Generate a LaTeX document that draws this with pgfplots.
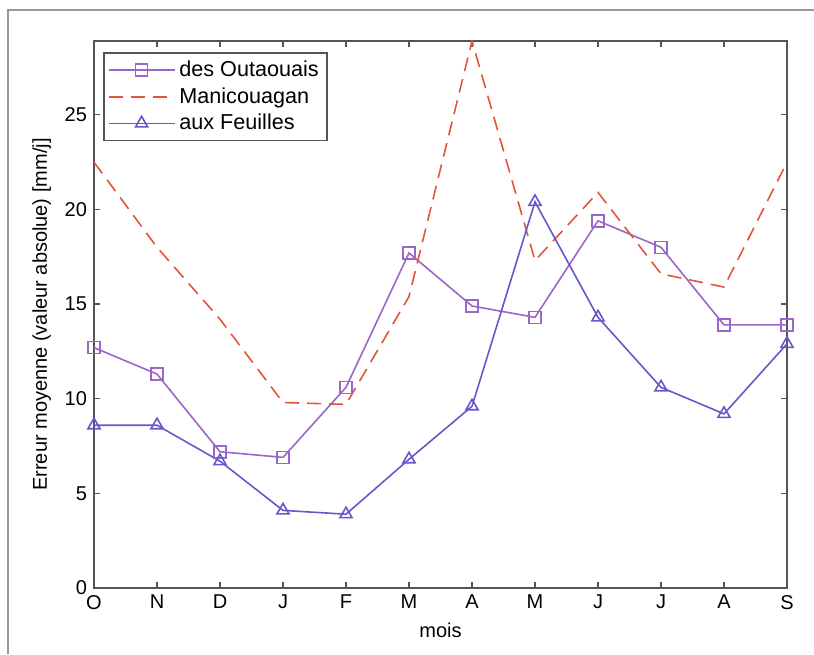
\documentclass[border=0pt]{standalone}
\usepackage{fontspec}
\setmainfont{Liberation Sans}
\usepackage{pgfplots}
\pgfplotsset{compat=1.18}
\definecolor{outa}{HTML}{9A66C8}
\definecolor{mani}{HTML}{E2553A}
\definecolor{feui}{HTML}{6A55CC}
\definecolor{axgray}{HTML}{555555}
\begin{document}
\begin{tikzpicture}
\useasboundingbox (0pt,0pt) rectangle (407pt,327pt);
\draw[gray!80, line width=1pt] (4pt,0pt) -- (4pt,322pt) -- (407pt,322pt);
\begin{axis}[
 at={(47pt,33pt)}, anchor=south west,
 width=346.5pt, height=273.5pt, scale only axis,
 xmin=0, xmax=11, ymin=0, ymax=28.9,
 xtick={0,...,11}, xticklabels={O,N,D,J,F,M,A,M,J,J,A,S},
 ytick={0,5,...,25},
 tick align=inside, major tick length=3pt,
 axis line style={axgray, line width=0.9pt},
 tick style={axgray, line width=0.6pt},
 xlabel={mois}, ylabel={Erreur moyenne (valeur absolue) [mm/j]},
 font=\fontsize{10}{12}\selectfont,
 /pgf/number format/assume math mode=true,
 legend style={at={(axis description cs:0.013,0.98)}, anchor=north west,
   draw=axgray, line width=0.8pt, font=\fontsize{10.8}{13}\selectfont,
   inner sep=2pt, row sep=0pt},
 legend cell align=left,
 legend image code/.code={\draw[mark repeat=2,mark phase=2,#1] plot coordinates {(0pt,0pt) (16.5pt,0pt) (33pt,0pt)};},
]
\addplot[outa, line width=0.8pt, mark=square, mark size=3pt, mark options={solid}] coordinates {
(0,12.7) (1,11.3) (2,7.2) (3,6.9) (4,10.6) (5,17.7) (6,14.9) (7,14.3) (8,19.4) (9,18.0) (10,13.9) (11,13.9)};
\addlegendentry{des Outaouais}
\addplot[mani, line width=0.8pt, dash pattern=on 7pt off 4pt] coordinates {
(0,22.5) (1,18.0) (2,14.2) (3,9.8) (4,9.7) (5,15.4) (6,28.9) (7,17.3) (8,20.9) (9,16.6) (10,15.9) (11,22.5)};
\addlegendentry{Manicouagan}
\addplot[feui, line width=0.8pt, mark=triangle, mark size=3.5pt, mark options={solid}] coordinates {
(0,8.6) (1,8.6) (2,6.7) (3,4.1) (4,3.9) (5,6.8) (6,9.6) (7,20.4) (8,14.3) (9,10.6) (10,9.2) (11,12.9)};
\addlegendentry{aux Feuilles}
\end{axis}
\end{tikzpicture}
\end{document}
